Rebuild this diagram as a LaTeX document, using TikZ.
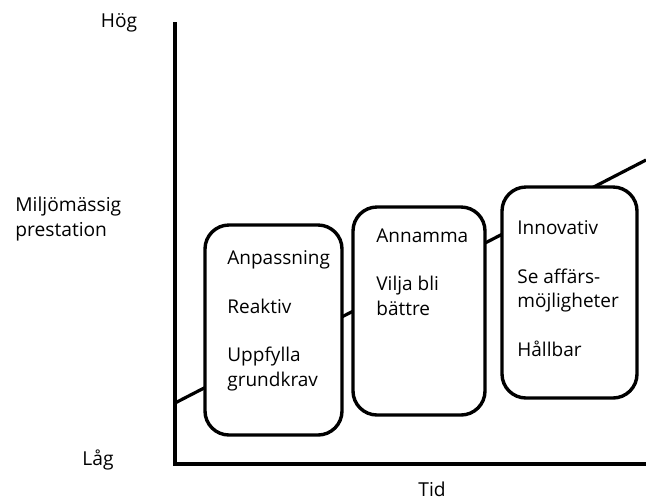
\documentclass[tikz,border=0pt]{standalone}
\usepackage{fontspec}
\setmainfont{Open Sans}
\begin{document}
\begin{tikzpicture}[x=0.5pt, y=-0.5pt]
    \tikzset{
      phase/.style={draw, line width=1.7pt, rounded corners=12pt, fill=white, inner sep=0pt},
      txt/.style={font=\fontsize{9.5}{12.2}\selectfont, align=left, inner sep=0pt, anchor=north west},
      lbl/.style={font=\fontsize{9.6}{12.2}\selectfont, inner sep=0pt}
    }
    \useasboundingbox (0,0) rectangle (646,500);
    \coordinate (O) at (175,464);
    \coordinate (T) at (175,22);
    \coordinate (X) at (646,464);
    \coordinate (S) at (175,403);
    \coordinate (E) at (646,160);
    % axes
    \draw[line width=2pt] (T) -- (O) -- (X);
    % trend line, hidden behind the boxes
    \draw[line width=1.6pt] (S) -- (E);
    \node[phase, minimum width=68.5pt, minimum height=105pt] (b1) at (273.5,330) {};
    \node[phase, minimum width=66pt, minimum height=104pt] (b2) at (419,311) {};
    \node[phase, minimum width=67.5pt, minimum height=105.5pt] (b3) at (569.5,292.5) {};
    \node[txt] (t1) at (227,250) {Anpassning\\[12.2pt]Reaktiv\\[12.2pt]Uppfylla\\grundkrav};
    \node[txt] (t2) at (376,228) {Annamma\\[12.2pt]Vilja bli\\bättre};
    \node[txt] (t3) at (517,220) {Innovativ\\[12.2pt]Se affärs-\\möjligheter\\[12.2pt]Hållbar};
    % axis labels
    \node[lbl] (hog) at (119,23) {Hög};
    \node[lbl, align=left, anchor=west] (perf) at (15,219) {Miljömässig\\prestation};
    \node[lbl] (lag) at (98,460) {Låg};
    \node[lbl] (tid) at (432,489) {Tid};
\end{tikzpicture}
\end{document}
